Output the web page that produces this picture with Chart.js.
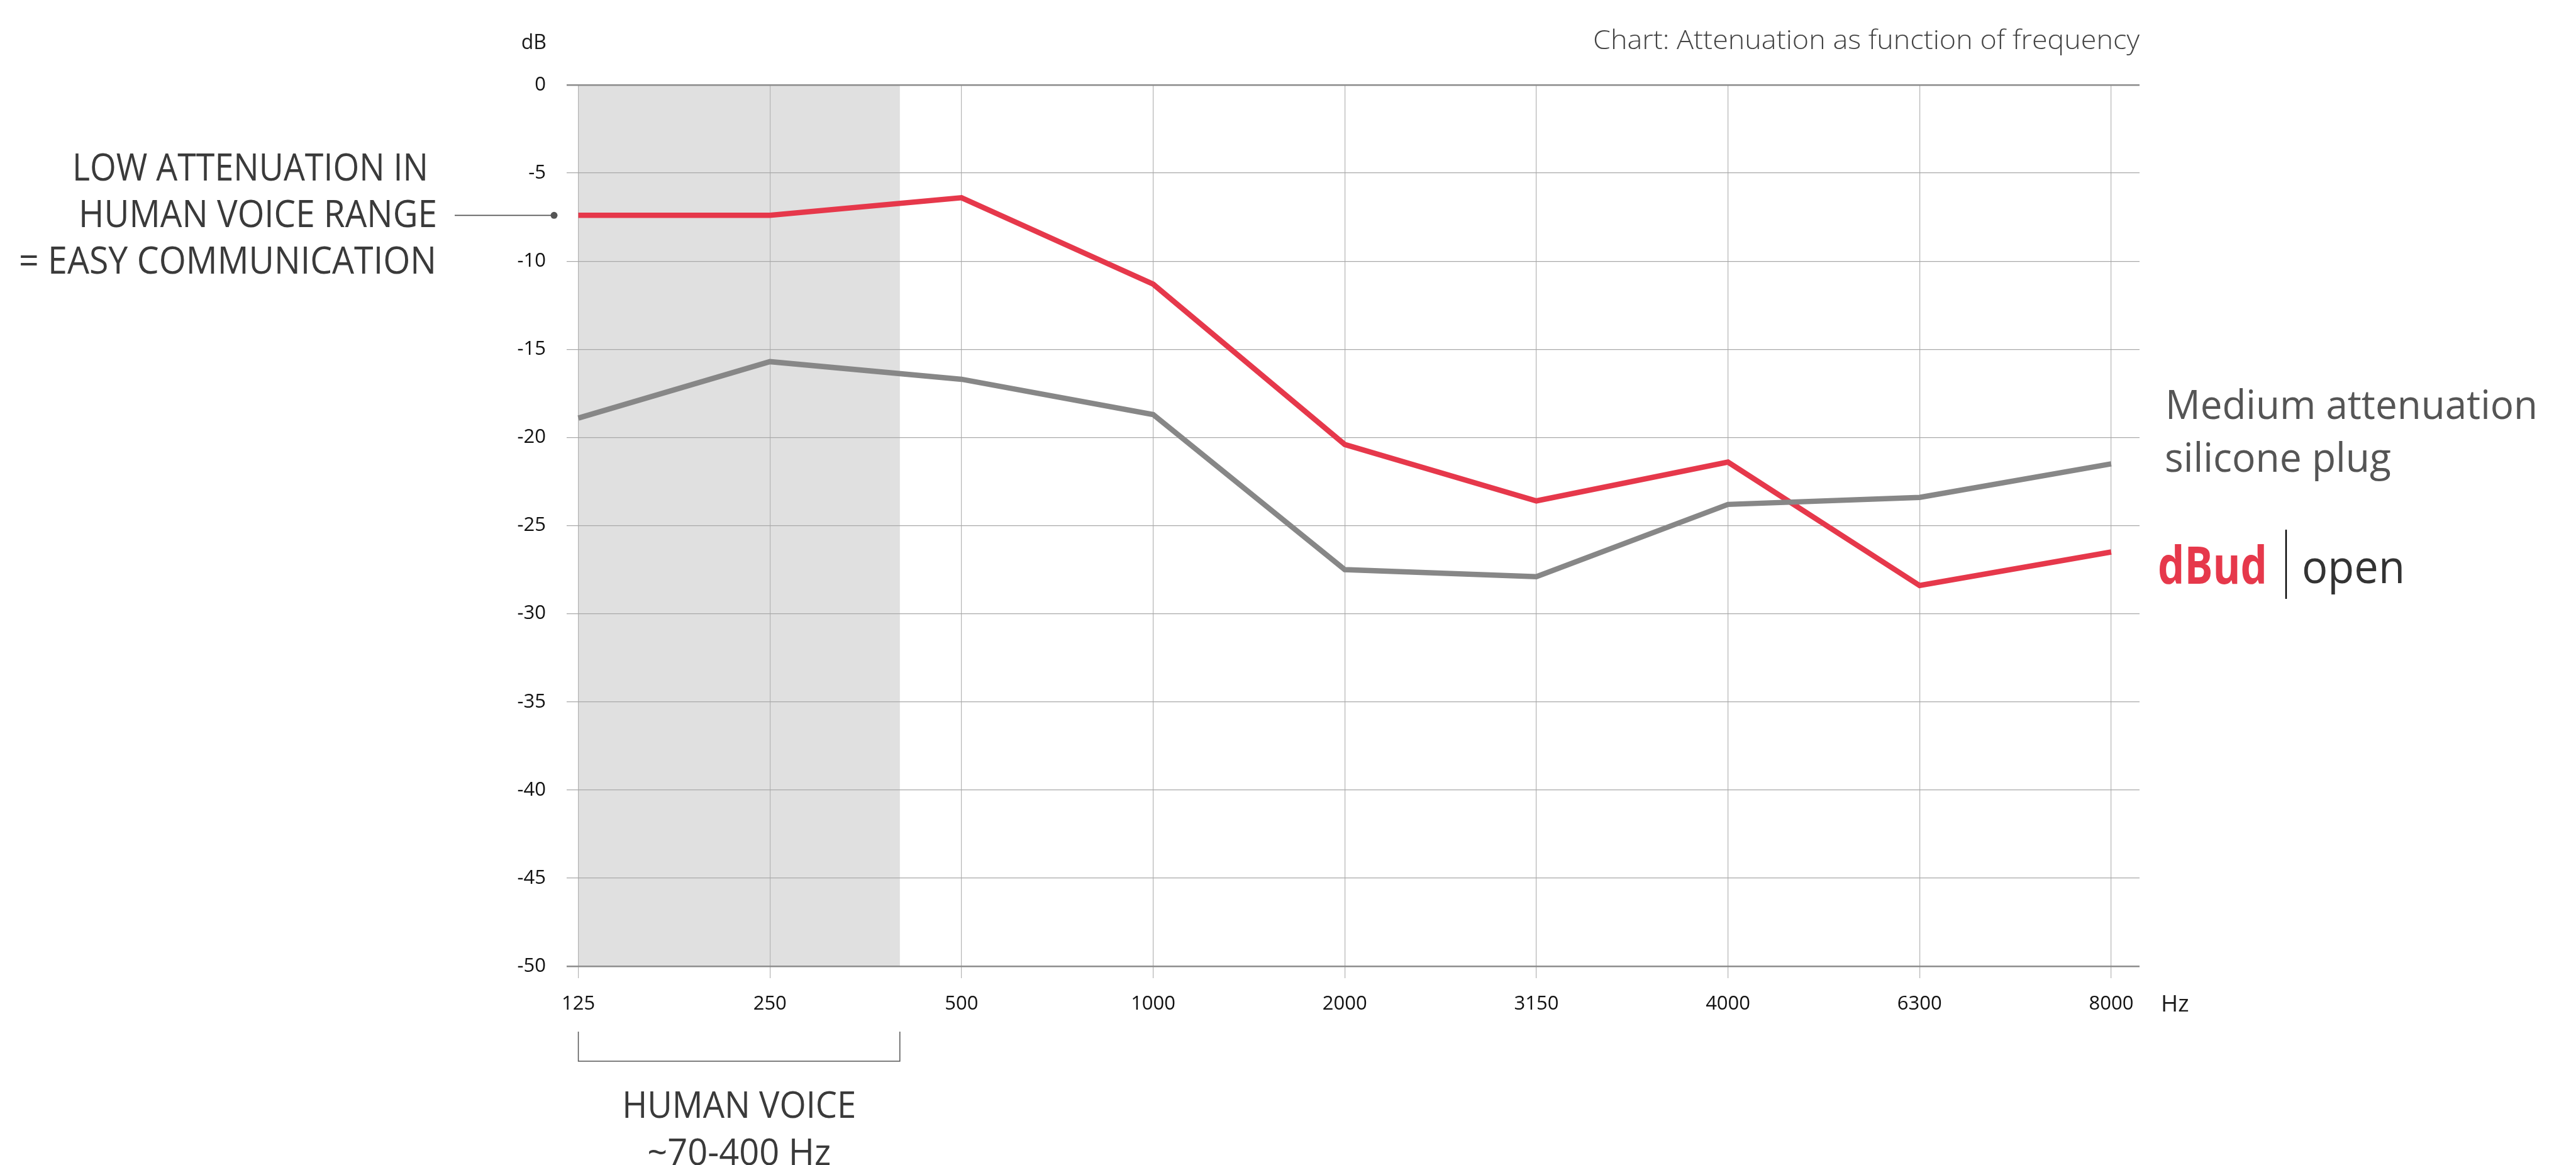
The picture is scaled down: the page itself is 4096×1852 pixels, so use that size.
<!DOCTYPE html>
<html>
<head>
<meta charset="utf-8">
<title>Attenuation as function of frequency</title>
<script src="https://cdn.jsdelivr.net/npm/chart.js@4.4.1/dist/chart.umd.min.js"></script>
<style>
  html, body { margin: 0; padding: 0; background: #fff; }
  #wrap { position: relative; width: 4096px; height: 1852px; }
</style>
</head>
<body>
<div id="wrap"><canvas id="attChart"></canvas></div>
<script>
// frequency bands (Hz) on the x axis
const frequencies = ['125', '250', '500', '1000', '2000', '3150', '4000', '6300', '8000'];
// attenuation (dB)
const dbudOpen = [-7.4, -7.4, -6.4, -11.3, -20.4, -23.6, -21.4, -28.4, -26.5];
const siliconePlug = [-18.9, -15.7, -16.7, -18.7, -27.5, -27.9, -23.8, -23.4, -21.5];
// y axis tick values
const dbTicks = [0, -5, -10, -15, -20, -25, -30, -35, -40, -45, -50];
// shaded human voice band (Hz)
const voiceBand = [125, 400];

const FONT = "'Open Sans', sans-serif";
const RED = '#e6384b';
const GREY = '#878787';

// position of a frequency on the band axis (log interpolation between bands)
function freqPos(f) {
    const nums = frequencies.map(Number);
    for (let i = 0; i < nums.length - 1; i++) {
        if (f <= nums[i + 1]) {
            return i + Math.log(f / nums[i]) / Math.log(nums[i + 1] / nums[i]);
        }
    }
    return nums.length - 1;
}

// draw text, optionally squeezed horizontally to a given width
function fitText(ctx, text, x, y, o) {
    ctx.save();
    ctx.font = `${o.weight || 400} ${o.size}px ${FONT}`;
    ctx.fillStyle = o.color || '#3a3a3a';
    ctx.textAlign = o.align || 'left';
    ctx.textBaseline = 'alphabetic';
    const w = ctx.measureText(text).width;
    const sx = o.width ? o.width / w : 1;
    ctx.translate(x, y);
    ctx.scale(sx, 1);
    ctx.fillText(text, 0, 0);
    ctx.restore();
}

const decorations = {
    id: 'decorations',
    beforeDraw(chart) {
        const { ctx, chartArea, scales } = chart;
        ctx.save();
        ctx.fillStyle = '#fff';
        ctx.fillRect(0, 0, chart.width, chart.height);
        const x0 = scales.x.getPixelForValue(freqPos(voiceBand[0]));
        const x1 = scales.x.getPixelForValue(freqPos(voiceBand[1]));
        ctx.fillStyle = '#e0e0e0';
        ctx.fillRect(x0, chartArea.top, x1 - x0, chartArea.bottom - chartArea.top);
        ctx.restore();
    },
    afterDraw(chart) {
        const { ctx, chartArea, scales } = chart;

        // header texts
        fitText(ctx, 'Chart: Attenuation as function of frequency', chartArea.right, 78,
            { size: 42, weight: 300, color: '#444', align: 'right', width: 869 });
        fitText(ctx, 'dB', 869, 78, { size: 32, color: '#1a1a1a', align: 'right' });
        fitText(ctx, 'Hz', 3436, 1608, { size: 37, color: '#1a1a1a' });

        // left annotation
        fitText(ctx, 'LOW ATTENUATION IN', 681, 287, { size: 60, align: 'right', width: 566 });
        fitText(ctx, 'HUMAN VOICE RANGE', 695, 361, { size: 60, align: 'right', width: 570 });
        fitText(ctx, '= EASY COMMUNICATION', 694, 435, { size: 60, align: 'right', width: 664 });

        const cy = scales.y.getPixelForValue(dbudOpen[0]);
        ctx.save();
        ctx.strokeStyle = '#555';
        ctx.fillStyle = '#555';
        ctx.lineWidth = 1.6;
        ctx.beginPath();
        ctx.moveTo(723, cy);
        ctx.lineTo(879, cy);
        ctx.stroke();
        ctx.beginPath();
        ctx.arc(881, cy, 5.5, 0, Math.PI * 2);
        ctx.fill();

        // bracket under the voice band
        const xa = scales.x.getPixelForValue(freqPos(voiceBand[0]));
        const xb = scales.x.getPixelForValue(freqPos(voiceBand[1]));
        ctx.lineWidth = 1.5;
        ctx.beginPath();
        ctx.moveTo(xa, 1640);
        ctx.lineTo(xa, 1687);
        ctx.lineTo(xb, 1687);
        ctx.lineTo(xb, 1640);
        ctx.stroke();
        ctx.restore();

        const mid = (xa + xb) / 2;
        fitText(ctx, 'HUMAN VOICE', mid, 1777, { size: 59, align: 'center', width: 372 });
        fitText(ctx, '~70-400 Hz', mid, 1852, { size: 59, align: 'center', width: 292 });

        // right side legend
        fitText(ctx, 'Medium attenuation', 3443, 666, { size: 64, color: '#555', width: 592 });
        fitText(ctx, 'silicone plug', 3442, 750, { size: 64, color: '#555', width: 360 });
        fitText(ctx, 'dBud', 3431, 928, { size: 82, weight: 700, color: RED, width: 174 });
        ctx.save();
        ctx.strokeStyle = '#000';
        ctx.lineWidth = 2.4;
        ctx.beginPath();
        ctx.moveTo(3635, 842);
        ctx.lineTo(3635, 952);
        ctx.stroke();
        ctx.restore();
        fitText(ctx, 'open', 3660, 927, { size: 73, color: '#333', width: 164 });
    }
};

const toPoints = arr => arr.map((v, i) => ({ x: i, y: v }));
const isEdge = c => c.tick && (c.tick.value === dbTicks[0] || c.tick.value === dbTicks[dbTicks.length - 1]);

Chart.defaults.font.family = FONT;

new Chart(document.getElementById('attChart'), {
    type: 'line',
    data: {
        datasets: [
            {
                label: 'Medium attenuation silicone plug',
                data: toPoints(siliconePlug),
                borderColor: GREY,
                borderWidth: 8.5,
                borderJoinStyle: 'miter',
                pointRadius: 0,
                tension: 0,
                fill: false
            },
            {
                label: 'dBud open',
                data: toPoints(dbudOpen),
                borderColor: RED,
                borderWidth: 8.5,
                borderJoinStyle: 'miter',
                pointRadius: 0,
                tension: 0,
                fill: false
            }
        ]
    },
    options: {
        responsive: true,
        maintainAspectRatio: false,
        animation: false,
        layout: { padding: { top: 135, right: 694, left: 0, bottom: 0 } },
        plugins: {
            legend: { display: false },
            tooltip: { enabled: false }
        },
        scales: {
            x: {
                type: 'linear',
                min: -0.061,
                max: 8.148,
                afterBuildTicks: s => { s.ticks = frequencies.map((f, i) => ({ value: i })); },
                afterFit: s => { s.height = 316; },
                border: { display: false },
                grid: { color: '#b4b4b4', lineWidth: 1.2, drawTicks: true, tickLength: 19 },
                ticks: {
                    autoSkip: false,
                    maxRotation: 0,
                    padding: 23,
                    color: '#111',
                    font: { size: 31 },
                    callback: v => frequencies[v]
                }
            },
            y: {
                min: Math.min(...dbTicks),
                max: Math.max(...dbTicks),
                afterBuildTicks: s => { s.ticks = dbTicks.map(v => ({ value: v })); },
                afterFit: s => { s.width = 901; },
                border: { display: false },
                grid: {
                    drawTicks: false,
                    color: c => isEdge(c) ? '#8c8c8c' : '#a9a9a9',
                    lineWidth: c => isEdge(c) ? 2.6 : 1.2
                },
                ticks: {
                    padding: 33,
                    color: '#111',
                    font: { size: 31 }
                }
            }
        }
    },
    plugins: [decorations]
});
</script>
</body>
</html>
